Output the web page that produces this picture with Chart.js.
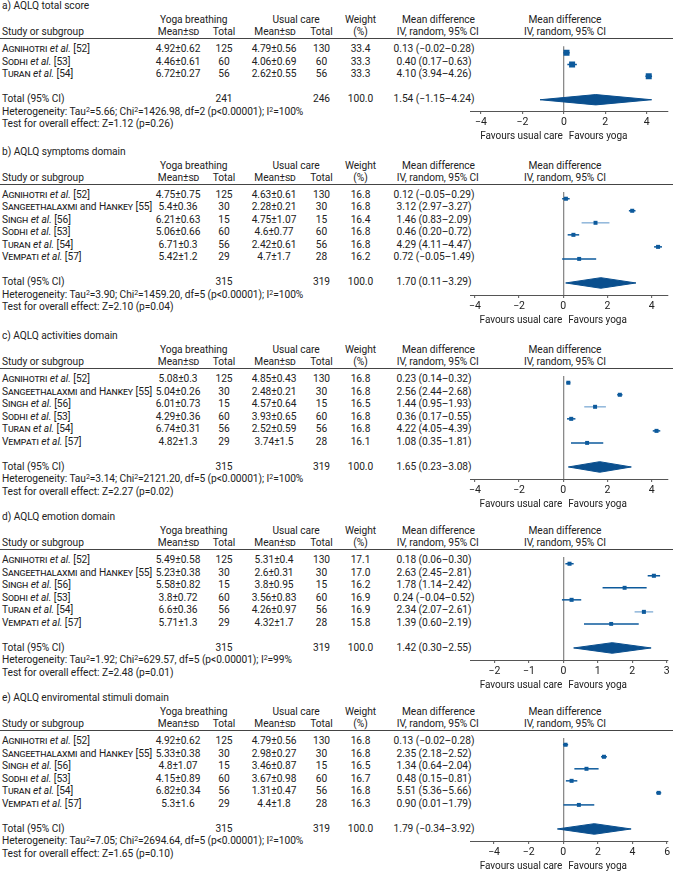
<!DOCTYPE html>
<html>
<head>
<meta charset="utf-8">
<script src="https://cdn.jsdelivr.net/npm/chart.js@4.4.1/dist/chart.umd.min.js"></script>
<style>
  body { margin: 0; background: #fff; }
  #page { position: relative; width: 673px; height: 873px; overflow: hidden;
          font-family: Roboto, sans-serif; font-size: 10.2px; color: #222; letter-spacing: -0.05px; }
  .t { position: absolute; white-space: nowrap; line-height: 14px; height: 14px; }
  .sc { font-variant: small-caps; letter-spacing: -0.15px; }
  .hl { position: absolute; left: 0; width: 673px; height: 0; border-top: 1px solid #444; }
  sup { font-size: 7px; vertical-align: 0; position: relative; top: -3px; line-height: 0; }
  canvas { position: absolute; }
</style>
</head>
<body>
<div id="page"></div>
<script>
/* ── data ─────────────────────────────────────────────────────── */
const panelTitles = ['a) AQLQ total score', 'b) AQLQ symptoms domain', 'c) AQLQ activities domain',
                     'd) AQLQ emotion domain', 'e) AQLQ enviromental stimuli domain'];

// study list: surname(s), "et al." flag, reference
const studyAuthors = ['Agnihotri', 'Sangeethalaxmi|Hankey', 'Singh', 'Sodhi', 'Turan', 'Vempati'];
const studyEtAl    = [true, false, true, true, true, true];
const studyRefs    = [52, 55, 56, 53, 54, 57];
const panelStudies = [[0, 3, 4], [0, 1, 2, 3, 4, 5], [0, 1, 2, 3, 4, 5], [0, 1, 2, 3, 4, 5], [0, 1, 2, 3, 4, 5]];

const yogaMean = [[4.92, 4.46, 6.72], [4.75, 5.4, 6.21, 5.06, 6.71, 5.42], [5.08, 5.04, 6.01, 4.29, 6.74, 4.82],
                  [5.49, 5.23, 5.58, 3.8, 6.6, 5.71], [4.92, 5.33, 4.8, 4.15, 6.82, 5.3]];
const yogaSd   = [[0.62, 0.61, 0.27], [0.75, 0.36, 0.63, 0.66, 0.3, 1.2], [0.3, 0.26, 0.73, 0.36, 0.31, 1.3],
                  [0.58, 0.38, 0.82, 0.72, 0.36, 1.3], [0.62, 0.38, 1.07, 0.89, 0.34, 1.6]];
const yogaN    = [[125, 60, 56], [125, 30, 15, 60, 56, 29], [125, 30, 15, 60, 56, 29],
                  [125, 30, 15, 60, 56, 29], [125, 30, 15, 60, 56, 29]];
const careMean = [[4.79, 4.06, 2.62], [4.63, 2.28, 4.75, 4.6, 2.42, 4.7], [4.85, 2.48, 4.57, 3.93, 2.52, 3.74],
                  [5.31, 2.6, 3.8, 3.56, 4.26, 4.32], [4.79, 2.98, 3.46, 3.67, 1.31, 4.4]];
const careSd   = [[0.56, 0.69, 0.55], [0.61, 0.21, 1.07, 0.77, 0.61, 1.7], [0.43, 0.21, 0.64, 0.65, 0.59, 1.5],
                  [0.4, 0.31, 0.95, 0.83, 0.97, 1.7], [0.56, 0.27, 0.87, 0.98, 0.47, 1.8]];
const careN    = [[130, 60, 56], [130, 30, 15, 60, 56, 28], [130, 30, 15, 60, 56, 28],
                  [130, 30, 15, 60, 56, 28], [130, 30, 15, 60, 56, 28]];
const weights  = [[33.4, 33.3, 33.3], [16.8, 16.8, 16.4, 16.8, 16.8, 16.2], [16.8, 16.8, 16.5, 16.8, 16.8, 16.1],
                  [17.1, 17.0, 16.2, 16.9, 16.9, 15.8], [16.8, 16.8, 16.5, 16.7, 16.8, 16.3]];
const meanDiff = [[0.13, 0.40, 4.10], [0.12, 3.12, 1.46, 0.46, 4.29, 0.72], [0.23, 2.56, 1.44, 0.36, 4.22, 1.08],
                  [0.18, 2.63, 1.78, 0.24, 2.34, 1.39], [0.13, 2.35, 1.34, 0.48, 5.51, 0.90]];
const ciLow    = [[-0.02, 0.17, 3.94], [-0.05, 2.97, 0.83, 0.20, 4.11, -0.05], [0.14, 2.44, 0.95, 0.17, 4.05, 0.35],
                  [0.06, 2.45, 1.14, -0.04, 2.07, 0.60], [-0.02, 2.18, 0.64, 0.15, 5.36, 0.01]];
const ciHigh   = [[0.28, 0.63, 4.26], [0.29, 3.27, 2.09, 0.72, 4.47, 1.49], [0.32, 2.68, 1.93, 0.55, 4.39, 1.81],
                  [0.30, 2.81, 2.42, 0.52, 2.61, 2.19], [0.28, 2.52, 2.04, 0.81, 5.66, 1.79]];

const totalYogaN = [241, 315, 315, 315, 315];
const totalCareN = [246, 319, 319, 319, 319];
const totalMd    = [1.54, 1.70, 1.65, 1.42, 1.79];
const totalLow   = [-1.15, 0.11, 0.23, 0.30, -0.34];
const totalHigh  = [4.24, 3.29, 3.08, 2.55, 3.92];
const tau2       = [5.66, 3.90, 3.14, 1.92, 7.05];
const chi2       = [1426.98, 1459.20, 2121.20, 629.57, 2694.64];
const dfs        = [2, 5, 5, 5, 5];
const iSquared   = [100, 100, 100, 99, 100];
const zValues    = [1.12, 2.10, 2.27, 2.48, 1.65];
const pOverall   = [0.26, 0.04, 0.02, 0.01, 0.10];

// axis ranges / ticks
const xMin  = [-4.53, -4.22, -4.22, -2.71, -5.39];
const xMax  = [5.03, 4.74, 4.74, 3.04, 6.05];
const xStep = [2, 2, 2, 1, 2];

/* ── layout / style ───────────────────────────────────────────── */
const PANEL_TOP = [6, 151.5, 336, 517, 698];
const ROW_H = 12.5;
const FONT = 'Roboto, sans-serif';
const BLUE = '#0d5a9c', LIGHT = '#8fb6da', DIAMOND = '#0a4f8e', ZERO = '#8a8a8a', INK = '#222';
const LIGHT_CI = { 1: [2], 2: [2], 3: [4] };   // CI lines drawn in the paler blue
const page = document.getElementById('page');

function put(html, x, y, align) {
  const d = document.createElement('div');
  d.className = 't';
  d.innerHTML = html;
  d.style.top = (y - 7) + 'px';
  if (align === 'c') { d.style.left = x + 'px'; d.style.transform = 'translateX(-50%)'; }
  else if (align === 'r') { d.style.right = (673 - x) + 'px'; }
  else d.style.left = x + 'px';
  page.appendChild(d);
}
const num = v => (v < 0 ? '\u2212' : '') + Math.abs(v).toFixed(2);
const ci = (m, l, h) => `${num(m)} (${num(l)}\u2013${num(h)})`;
function studyLabel(s) {
  const names = studyAuthors[s].split('|').map(n => `<span class="sc">${n}</span>`).join(' and ');
  return `${names}${studyEtAl[s] ? ' <i>et al.</i>' : ''} [${studyRefs[s]}]`;
}

const favoursPlugin = {
  id: 'favours',
  afterDraw(chart) {
    const { ctx, chartArea, scales: { x } } = chart;
    const x0 = x.getPixelForValue(0), y = chartArea.bottom + 25;
    ctx.save();
    ctx.font = '10px ' + FONT;
    ctx.fillStyle = INK;
    ctx.textBaseline = 'middle';
    ctx.textAlign = 'right';
    ctx.fillText('Favours usual care', x0 - 1, y);
    ctx.textAlign = 'left';
    ctx.fillText('Favours yoga', x0 + 5, y);
    ctx.restore();
  }
};

panelTitles.forEach((title, p) => {
  const T = PANEL_TOP[p];
  const studies = panelStudies[p];
  const n = studies.length;
  const rowY = i => T + 43 + ROW_H * i;

  put(title, 2, T, 'l');
  put('Yoga breathing', 193.7, T + 14, 'c');
  put('Usual care', 296, T + 14, 'c');
  put('Weight', 360.5, T + 14, 'c');
  put('Mean difference', 438.5, T + 14, 'c');
  put('Mean difference', 565, T + 14, 'c');
  put('Study or subgroup', 2, T + 26, 'l');
  put('Mean±<span class="sc">sd</span>', 178.5, T + 26, 'c');
  put('Total', 224, T + 26, 'c');
  put('Mean±<span class="sc">sd</span>', 275, T + 26, 'c');
  put('Total', 321.5, T + 26, 'c');
  put('(%)', 360.5, T + 26, 'c');
  put('IV, random, 95% CI', 437.8, T + 26, 'c');
  put('IV, random, 95% CI', 565, T + 26, 'c');
  const hl = document.createElement('div');
  hl.className = 'hl';
  hl.style.top = (T + 32) + 'px';
  page.appendChild(hl);

  studies.forEach((s, i) => {
    const y = rowY(i);
    put(studyLabel(s), 2, y, 'l');
    put(`${yogaMean[p][i]}±${yogaSd[p][i]}`, 178, y, 'c');
    put(String(yogaN[p][i]), 224, y, 'c');
    put(`${careMean[p][i]}±${careSd[p][i]}`, 274, y, 'c');
    put(String(careN[p][i]), 321.5, y, 'c');
    put(weights[p][i].toFixed(1), 360.5, y, 'c');
    put(ci(meanDiff[p][i], ciLow[p][i], ciHigh[p][i]), 434, y, 'c');
  });
  const ty = rowY(n + 1);
  put('Total (95% CI)', 2, ty, 'l');
  put(String(totalYogaN[p]), 224, ty, 'c');
  put(String(totalCareN[p]), 321.5, ty, 'c');
  put('100.0', 360.5, ty, 'c');
  put(ci(totalMd[p], totalLow[p], totalHigh[p]), 434, ty, 'c');
  put(`Heterogeneity: Tau<sup>2</sup>=${tau2[p].toFixed(2)}; Chi<sup>2</sup>=${chi2[p].toFixed(2)}, df=${dfs[p]} (p&lt;0.00001); I<sup>2</sup>=${iSquared[p]}%`, 2, ty + ROW_H, 'l');
  put(`Test for overall effect: Z=${zValues[p].toFixed(2)} (p=${pOverall[p].toFixed(2)})`, 2, ty + 2 * ROW_H, 'l');

  // ── forest plot ──
  const yMinV = -0.56;
  const areaH = Math.round(ROW_H * (n + 1.96 - yMinV));
  const H = areaH + 34;
  const cv = document.createElement('canvas');
  cv.width = 209; cv.height = H;
  cv.style.left = '464px';
  cv.style.top = (T + 36) + 'px';
  page.appendChild(cv);

  const light = LIGHT_CI[p] || [];
  const datasets = studies.map((s, i) => ({
    data: [{ x: ciLow[p][i], y: i }, { x: ciHigh[p][i], y: i }],
    showLine: true, borderColor: light.includes(i) ? LIGHT : BLUE, borderWidth: 1.5,
    pointRadius: 0, order: 2
  }));
  datasets.push({
    data: meanDiff[p].map((v, i) => ({ x: v, y: i })),
    pointStyle: 'rect',
    pointRadius: weights[p].map(w => (2 + 0.12 * w) / Math.SQRT2),
    backgroundColor: BLUE, borderWidth: 0, order: 0
  });
  const t = n + 1;
  datasets.push({
    data: [{ x: totalLow[p], y: t }, { x: totalMd[p], y: t - 0.44 }, { x: totalHigh[p], y: t },
           { x: totalMd[p], y: t + 0.44 }, { x: totalLow[p], y: t }],
    showLine: true, fill: 'shape', backgroundColor: DIAMOND, borderColor: DIAMOND, borderWidth: 1,
    pointRadius: 0, order: 1
  });

  new Chart(cv, {
    type: 'scatter',
    data: { datasets },
    options: {
      responsive: false, animation: false, events: [],
      layout: { padding: { left: 6, right: 5, top: 0, bottom: 0 } },
      plugins: { legend: { display: false }, tooltip: { enabled: false } },
      scales: {
        x: {
          type: 'linear', position: 'bottom', min: xMin[p], max: xMax[p],
          afterFit: s => { s.height = 34; },
          border: { display: true, color: '#555', width: 1 },
          grid: {
            drawOnChartArea: true, drawTicks: true, tickLength: 3, tickColor: '#555', tickWidth: 1,
            lineWidth: 1.3, color: c => (c.tick && c.tick.value === 0) ? ZERO : 'rgba(0,0,0,0)'
          },
          ticks: {
            stepSize: xStep[p], includeBounds: false, padding: 2, autoSkip: false, maxRotation: 0,
            color: INK, font: { family: FONT, size: 10.5 },
            callback: v => v < 0 ? '\u2212' + Math.abs(v) : String(v)
          }
        },
        y: { type: 'linear', reverse: true, min: yMinV, max: yMinV + areaH / ROW_H, display: false }
      }
    },
    plugins: [favoursPlugin]
  });
});
</script>
</body>
</html>
